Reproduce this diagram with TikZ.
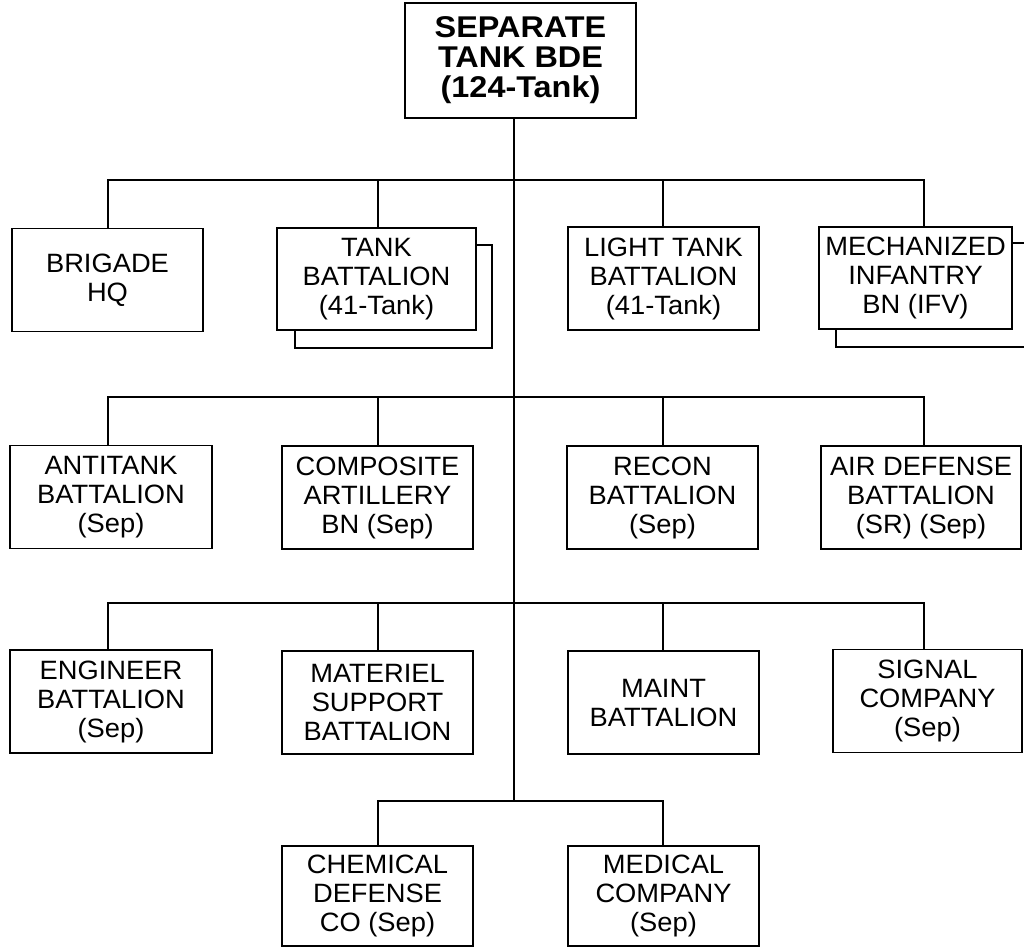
\documentclass[tikz,border=0pt]{standalone}
\usepackage{fontspec}
\setmainfont{Liberation Sans}[FakeStretch=1.03]
\newfontfamily\headfont{Liberation Sans}[FakeStretch=1.08]
\usetikzlibrary{positioning}
\tikzset{
  unit/.style={draw,fill=white,line width=1.3pt,minimum width=191pt,minimum height=103pt,
    inner sep=0pt,align=center,font=\fontsize{26.5}{29}\selectfont},
  hqunit/.style={unit,minimum width=231pt,minimum height=115pt,font=\headfont\fontsize{30}{30}\selectfont\bfseries},
  link/.style={line width=1.3pt}
}

\begin{document}
\begin{tikzpicture}[x=1pt,y=-1pt]
\clip (0,0) rectangle (1024,948);
% top
\node[hqunit] (bde) at (520.5,60.5) {SEPARATE\\TANK BDE\\(124-Tank)};
% row 1
\node[unit] (hq) at (107.5,280) {BRIGADE\\HQ};
\node[unit,minimum width=197pt] (tankbnbk) at (393.5,296.5) {};
\node[unit,minimum width=199pt,minimum height=102pt] (tankbn) at (376.5,279) {TANK\\BATTALION\\(41-Tank)};
\node[unit] (lttank) at (663.5,278.5) {LIGHT TANK\\BATTALION\\(41-Tank)};
\node[unit,minimum width=193pt,minimum height=104pt] (mechbk) at (932.5,295) {};
\node[unit,minimum width=193pt,minimum height=102pt] (mech) at (915.5,278) {MECHANIZED\\INFANTRY\\BN (IFV)};
% row 2
\node[unit,minimum width=202pt] (at) at (111,497) {ANTITANK\\BATTALION\\(Sep)};
\node[unit] (arty) at (377.5,497.5) {COMPOSITE\\ARTILLERY\\BN (Sep)};
\node[unit] (recon) at (662.5,497.5) {RECON\\BATTALION\\(Sep)};
\node[unit,minimum width=200pt] (ad) at (921,497.5) {AIR DEFENSE\\BATTALION\\(SR) (Sep)};
% row 3
\node[unit,minimum width=202pt] (engr) at (111,701.5) {ENGINEER\\BATTALION\\(Sep)};
\node[unit] (matl) at (377.5,702.5) {MATERIEL\\SUPPORT\\BATTALION};
\node[unit] (maint) at (663.5,702.5) {MAINT\\BATTALION};
\node[unit,minimum width=189pt] (signal) at (927.5,701) {SIGNAL\\COMPANY\\(Sep)};
% row 4
\node[unit,minimum height=100pt] (chem) at (377.5,896) {CHEMICAL\\DEFENSE\\CO (Sep)};
\node[unit,minimum height=100pt] (med) at (663.5,896) {MEDICAL\\COMPANY\\(Sep)};

% bus levels and columns
\coordinate (b1) at (514,180);
\coordinate (b2) at (514,397);
\coordinate (b3) at (514,603);
\coordinate (b4) at (514,801);
\coordinate (c1) at (108,0);
\coordinate (c2) at (378,0);
\coordinate (c3) at (663,0);
\coordinate (c4) at (924,0);

\draw[link] (bde.south -| b4) -- (b4);
\foreach \b/\p/\q/\r/\s in {b1/hq/tankbn/lttank/mech,b2/at/arty/recon/ad,b3/engr/matl/maint/signal}
{
  \draw[link] (c1 |- \p.north) -- (c1 |- \b) -- (c4 |- \b) -- (c4 |- \s.north);
  \draw[link] (c2 |- \b) -- (c2 |- \q.north);
  \draw[link] (c3 |- \b) -- (c3 |- \r.north);
}
\draw[link] (c2 |- chem.north) -- (c2 |- b4) -- (c3 |- b4) -- (c3 |- med.north);
\end{tikzpicture}
\end{document}
